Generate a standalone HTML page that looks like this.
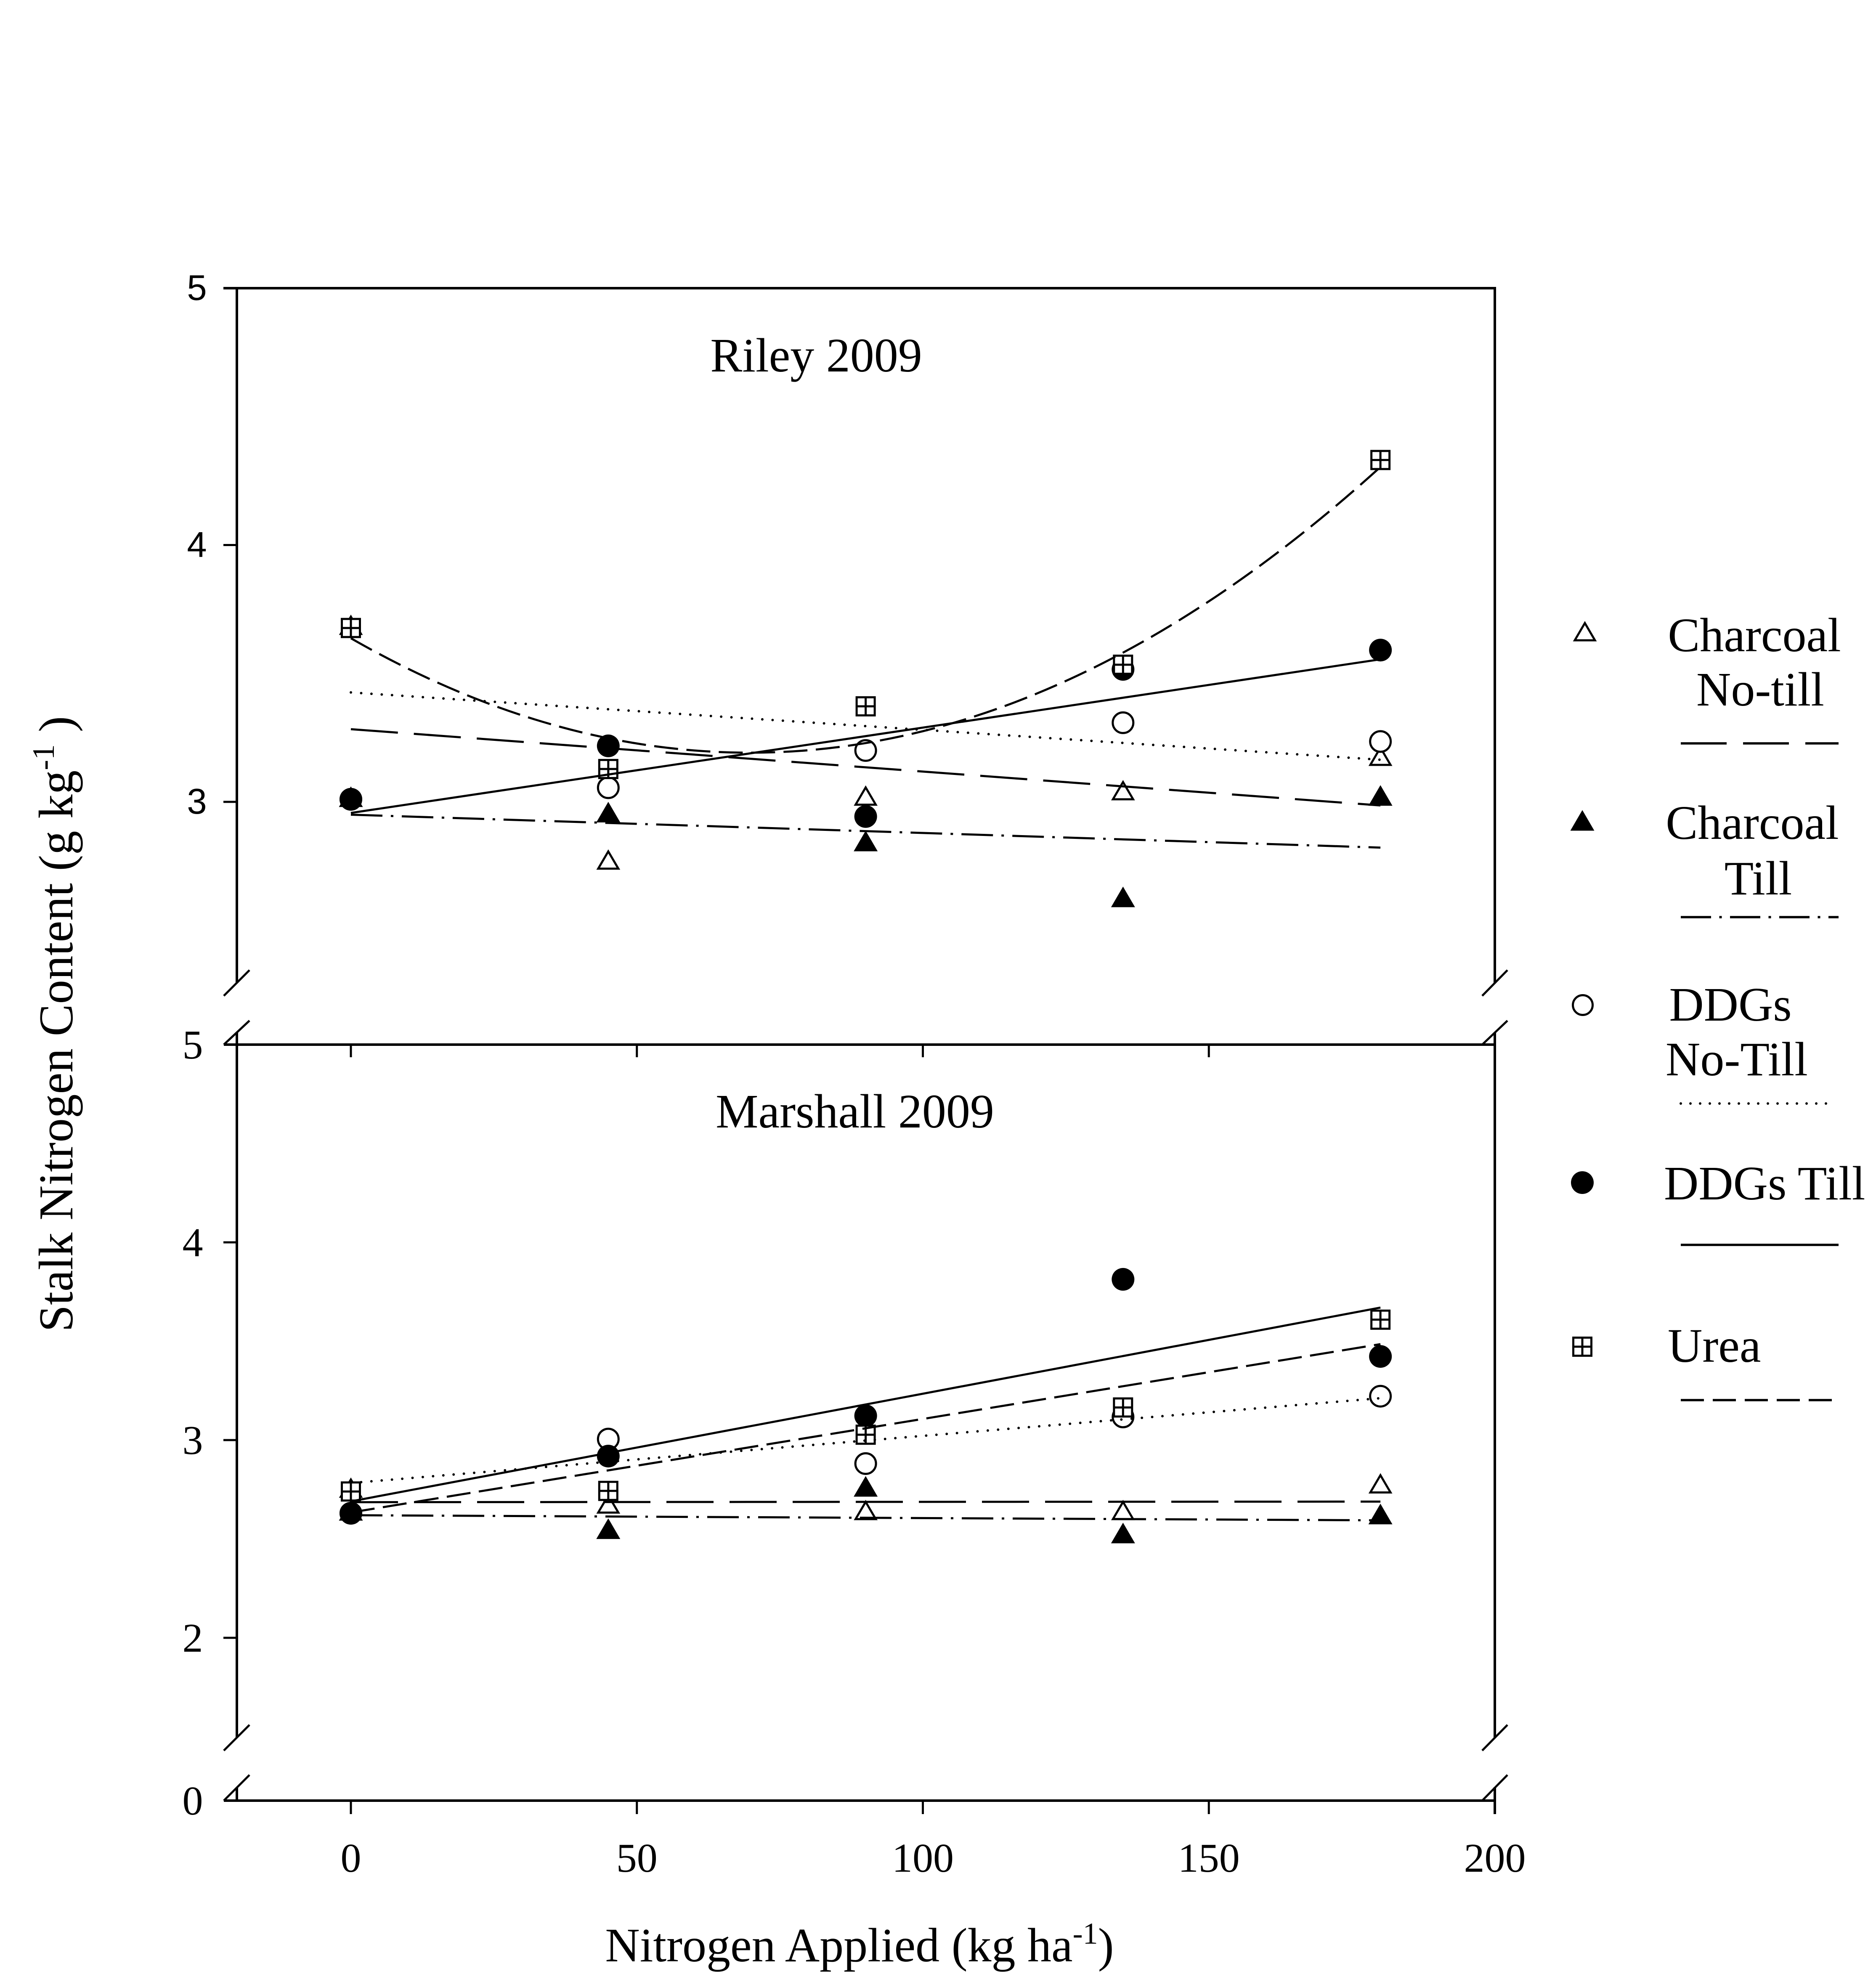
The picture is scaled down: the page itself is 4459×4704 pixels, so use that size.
<!DOCTYPE html>
<html>
<head>
<meta charset="utf-8">
<style>
html,body{margin:0;padding:0;background:#fff;}
svg{display:block;}
.serif{font-family:"Liberation Serif","Times New Roman",serif;}
.sans{font-family:"Liberation Sans",Arial,sans-serif;}
</style>
</head>
<body>
<svg width="4459" height="4704" viewBox="0 0 4459 4704" xmlns="http://www.w3.org/2000/svg">
<rect width="4459" height="4704" fill="#fff"/>

<!-- ============ FRAMES ============ -->
<g stroke="#000" stroke-width="6" fill="none" stroke-linecap="butt">
  <!-- top panel -->
  <line x1="531" y1="685" x2="3556" y2="685"/>
  <line x1="563" y1="682" x2="563" y2="2337"/>
  <line x1="3553" y1="682" x2="3553" y2="2337"/>
  <line x1="531" y1="1295.5" x2="563" y2="1295.5" stroke-width="5"/>
  <line x1="531" y1="1906" x2="563" y2="1906" stroke-width="5"/>
  <!-- top panel breaks -->
  <line x1="532" y1="2367" x2="593" y2="2306" stroke-width="5"/>
  <line x1="3523" y1="2367" x2="3583" y2="2306" stroke-width="5"/>

  <!-- bottom panel -->
  <line x1="532" y1="2483" x2="3556" y2="2483"/>
  <line x1="563" y1="2455" x2="563" y2="4130"/>
  <line x1="3553" y1="2455" x2="3553" y2="4130"/>
  <line x1="532" y1="2483" x2="593" y2="2426" stroke-width="5"/>
  <line x1="3523" y1="2483" x2="3583" y2="2426" stroke-width="5"/>
  <!-- ticks on bottom panel top line (downward) -->
  <line x1="834" y1="2483" x2="834" y2="2513" stroke-width="5"/>
  <line x1="1513.75" y1="2483" x2="1513.75" y2="2513" stroke-width="5"/>
  <line x1="2193.5" y1="2483" x2="2193.5" y2="2513" stroke-width="5"/>
  <line x1="2873.25" y1="2483" x2="2873.25" y2="2513" stroke-width="5"/>
  <!-- y ticks bottom -->
  <line x1="531" y1="2953" x2="563" y2="2953" stroke-width="5"/>
  <line x1="531" y1="3423" x2="563" y2="3423" stroke-width="5"/>
  <line x1="531" y1="3893" x2="563" y2="3893" stroke-width="5"/>
  <!-- lower breaks -->
  <line x1="532" y1="4161" x2="593" y2="4100" stroke-width="5"/>
  <line x1="3523" y1="4161" x2="3583" y2="4100" stroke-width="5"/>
  <line x1="563" y1="4250" x2="563" y2="4280"/>
  <line x1="3553" y1="4248" x2="3553" y2="4312"/>
  <line x1="532" y1="4280" x2="593" y2="4219" stroke-width="5"/>
  <line x1="3523" y1="4280" x2="3583" y2="4219" stroke-width="5"/>
  <!-- bottom axis -->
  <line x1="532" y1="4280" x2="3556" y2="4280"/>
  <line x1="834" y1="4280" x2="834" y2="4312" stroke-width="5"/>
  <line x1="1513.75" y1="4280" x2="1513.75" y2="4312" stroke-width="5"/>
  <line x1="2193.5" y1="4280" x2="2193.5" y2="4312" stroke-width="5"/>
  <line x1="2873.25" y1="4280" x2="2873.25" y2="4312" stroke-width="5"/>
</g>

<!-- ============ TICK LABELS ============ -->
<g class="sans" font-size="85" text-anchor="middle" fill="#000">
  <text x="468" y="713">5</text>
  <text x="468" y="1324">4</text>
  <text x="468" y="1934">3</text>
</g>
<g class="serif" font-size="98" text-anchor="middle" fill="#000">
  <text x="458" y="2516">5</text>
  <text x="458" y="2986">4</text>
  <text x="458" y="3456">3</text>
  <text x="458" y="3926">2</text>
  <text x="458" y="4313">0</text>
  <text x="834" y="4449">0</text>
  <text x="1513.75" y="4449">50</text>
  <text x="2193.5" y="4449">100</text>
  <text x="2873.25" y="4449">150</text>
  <text x="3553" y="4449">200</text>
</g>

<!-- ============ TITLES / AXIS LABELS ============ -->
<g class="serif" fill="#000" font-size="114">
  <text x="1940" y="883" text-anchor="middle">Riley 2009</text>
  <text x="2032" y="2680" text-anchor="middle">Marshall 2009</text>
  <text x="2043" y="4662" text-anchor="middle">Nitrogen Applied (kg ha<tspan font-size="72" dy="-42">-1</tspan><tspan dy="42">)</tspan></text>
  <text transform="translate(172,2434) rotate(-90)" text-anchor="middle" font-size="115">Stalk Nitrogen Content (g kg<tspan font-size="74" dy="-44">-1</tspan><tspan dy="44"> )</tspan></text>
</g>

<!-- ============ TOP PANEL MARKERS ============ -->
<g stroke="#000" stroke-width="5" stroke-linejoin="miter">
  <!-- open triangles (Charcoal No-till) -->
  <g fill="#fff">
    <polygon points="834,1465.8 810,1506.8 858,1506.8"/>
    <polygon points="1445.8,2023.8 1421.8,2064.8 1469.8,2064.8"/>
    <polygon points="2057.6,1871.7 2033.6,1912.7 2081.6,1912.7"/>
    <polygon points="2669.3,1858.9 2645.3,1899.9 2693.3,1899.9"/>
    <polygon points="3281.1,1777.1 3257.1,1818.1 3305.1,1818.1"/>
  </g>
  <!-- filled triangles (Charcoal Till) -->
  <g fill="#000" stroke="none">
    <polygon points="834,1869.3 805.5,1918.3 862.5,1918.3"/>
    <polygon points="1445.8,1905.9 1417.3,1954.9 1474.3,1954.9"/>
    <polygon points="2057.6,1974.5 2029.1,2023.5 2086.1,2023.5"/>
    <polygon points="2669.3,2107.4 2640.8,2156.4 2697.8,2156.4"/>
    <polygon points="3281.1,1866.2 3252.6,1915.2 3309.6,1915.2"/>
  </g>
  <!-- open circles (DDGs No-Till) -->
  <g fill="#fff">
    <circle cx="834" cy="1899.9" r="24.5"/>
    <circle cx="1445.8" cy="1872.4" r="24.5"/>
    <circle cx="2057.6" cy="1783.9" r="24.5"/>
    <circle cx="2669.3" cy="1717.9" r="24.5"/>
    <circle cx="3281.1" cy="1762.5" r="24.5"/>
  </g>
  <!-- filled circles (DDGs Till) -->
  <g fill="#000" stroke="none">
    <circle cx="834" cy="1899.9" r="27"/>
    <circle cx="1445.8" cy="1772.9" r="27"/>
    <circle cx="2057.6" cy="1940.8" r="27"/>
    <circle cx="2669.3" cy="1591" r="27"/>
    <circle cx="3281.1" cy="1545.2" r="27"/>
  </g>
  <!-- squares (Urea) -->
  <g fill="#fff">
    <rect x="812.5" y="1471.2" width="43" height="43"/>
    <path d="M834 1471.2V1514.2M812.5 1492.7H855.5" fill="none"/>
    <rect x="1424.3" y="1806.4" width="43" height="43"/>
    <path d="M1445.8 1806.4V1849.4M1424.3 1827.9H1467.3" fill="none"/>
    <rect x="2036.1" y="1657.4" width="43" height="43"/>
    <path d="M2057.6 1657.4V1700.4M2036.1 1678.9H2079.1" fill="none"/>
    <rect x="2647.8" y="1558.5" width="43" height="43"/>
    <path d="M2669.3 1558.5V1601.5M2647.8 1580H2690.8" fill="none"/>
    <rect x="3259.6" y="1071.9" width="43" height="43"/>
    <path d="M3281.1 1071.9V1114.9M3259.6 1093.4H3302.6" fill="none"/>
  </g>
</g>

<!-- ============ TOP PANEL LINES ============ -->
<g stroke="#000" stroke-width="5" fill="none">
  <line x1="834" y1="1932.3" x2="3281.1" y2="1567.2"/>
  <line x1="834" y1="1645.9" x2="3281.1" y2="1805.9" stroke-width="6" stroke-linecap="round" stroke-dasharray="0 24.5"/>
  <line x1="834" y1="1733.2" x2="3281.1" y2="1914.5" stroke-dasharray="112 38"/>
  <line x1="834" y1="1936.5" x2="3281.1" y2="2014.7" stroke-dasharray="75 20 6 20"/>
  <path d="M834 1517.1 Q2057.6 2218.9 3281.1 1110" stroke-dasharray="57 20"/>
</g>

<!-- ============ BOTTOM PANEL MARKERS ============ -->
<g stroke="#000" stroke-width="5" stroke-linejoin="miter">
  <g fill="#fff">
    <polygon points="834,3516.8 810,3557.8 858,3557.8"/>
    <polygon points="1445.8,3554.4 1421.8,3595.4 1469.8,3595.4"/>
    <polygon points="2057.6,3569.9 2033.6,3610.9 2081.6,3610.9"/>
    <polygon points="2669.3,3569.9 2645.3,3610.9 2693.3,3610.9"/>
    <polygon points="3281.1,3506.5 3257.1,3547.5 3305.1,3547.5"/>
  </g>
  <g fill="#000" stroke="none">
    <polygon points="834,3565.5 805.5,3614.5 862.5,3614.5"/>
    <polygon points="1445.8,3609.1 1417.3,3658.1 1474.3,3658.1"/>
    <polygon points="2057.6,3508.5 2029.1,3557.5 2086.1,3557.5"/>
    <polygon points="2669.3,3619.4 2640.8,3668.4 2697.8,3668.4"/>
    <polygon points="3281.1,3574.3 3252.6,3623.3 3309.6,3623.3"/>
  </g>
  <g fill="#fff">
    <circle cx="834" cy="3596.9" r="24.5"/>
    <circle cx="1445.8" cy="3420.6" r="24.5"/>
    <circle cx="2057.6" cy="3478.9" r="24.5"/>
    <circle cx="2669.3" cy="3368" r="24.5"/>
    <circle cx="3281.1" cy="3318.7" r="24.5"/>
  </g>
  <g fill="#000" stroke="none">
    <circle cx="834" cy="3596.9" r="27"/>
    <circle cx="1445.8" cy="3461.1" r="27"/>
    <circle cx="2057.6" cy="3365.2" r="27"/>
    <circle cx="2669.3" cy="3040.9" r="27"/>
    <circle cx="3281.1" cy="3224.2" r="27"/>
  </g>
  <g fill="#fff">
    <rect x="812.5" y="3523.7" width="43" height="43"/>
    <path d="M834 3523.7V3566.7M812.5 3545.2H855.5" fill="none"/>
    <rect x="1424.3" y="3522.3" width="43" height="43"/>
    <path d="M1445.8 3522.3V3565.3M1424.3 3543.8H1467.3" fill="none"/>
    <rect x="2036.1" y="3388.7" width="43" height="43"/>
    <path d="M2057.6 3388.7V3431.7M2036.1 3410.2H2079.1" fill="none"/>
    <rect x="2647.8" y="3324" width="43" height="43"/>
    <path d="M2669.3 3324V3367M2647.8 3345.5H2690.8" fill="none"/>
    <rect x="3259.6" y="3115.3" width="43" height="43"/>
    <path d="M3281.1 3115.3V3158.3M3259.6 3136.8H3302.6" fill="none"/>
  </g>
</g>

<!-- ============ BOTTOM PANEL LINES ============ -->
<g stroke="#000" stroke-width="5" fill="none">
  <line x1="834" y1="3568.7" x2="3281.1" y2="3108.1"/>
  <line x1="834" y1="3595" x2="3281.1" y2="3195" stroke-dasharray="57 20"/>
  <line x1="834" y1="3525" x2="3281.1" y2="3323.4" stroke-width="6" stroke-linecap="round" stroke-dasharray="0 24.5"/>
  <line x1="834" y1="3570.6" x2="3281.1" y2="3569.2" stroke-dasharray="112 38"/>
  <line x1="834" y1="3601.6" x2="3281.1" y2="3613.8" stroke-dasharray="75 20 6 20"/>
</g>

<!-- ============ LEGEND ============ -->
<g stroke="#000" stroke-width="5">
  <polygon points="3767,1481 3743,1522 3791,1522" fill="#fff"/>
  <polygon points="3761,1925.5 3732.5,1974.5 3789.5,1974.5" fill="#000" stroke="none"/>
  <circle cx="3762" cy="2389" r="23.5" fill="#fff"/>
  <circle cx="3761" cy="2811" r="27" fill="#000" stroke="none"/>
  <rect x="3739.5" y="3179.5" width="43" height="43" fill="#fff"/>
  <path d="M3761 3179.5V3222.5M3739.5 3201H3782.5" fill="none"/>
</g>
<g stroke="#000" stroke-width="5.5" fill="none">
  <line x1="3995" y1="1767" x2="4370" y2="1767" stroke-dasharray="109 39"/>
  <line x1="3995" y1="2180" x2="4370" y2="2180" stroke-dasharray="72 19.5 6 19.5"/>
  <line x1="3995" y1="2623" x2="4361" y2="2623" stroke-width="6" stroke-linecap="round" stroke-dasharray="0 23"/>
  <line x1="3995" y1="2959" x2="4370" y2="2959"/>
  <line x1="3995" y1="3328" x2="4355" y2="3328" stroke-dasharray="55 21"/>
</g>
<g class="serif" font-size="114" fill="#000">
  <text x="4170" y="1548" text-anchor="middle">Charcoal</text>
  <text x="4184" y="1677" text-anchor="middle">No-till</text>
  <text x="4165" y="1994" text-anchor="middle">Charcoal</text>
  <text x="4179" y="2126" text-anchor="middle">Till</text>
  <text x="4113" y="2426" text-anchor="middle">DDGs</text>
  <text x="4128" y="2556" text-anchor="middle">No-Till</text>
  <text x="3955" y="2851">DDGs Till</text>
  <text x="3964" y="3237">Urea</text>
</g>
</svg>
</body>
</html>
